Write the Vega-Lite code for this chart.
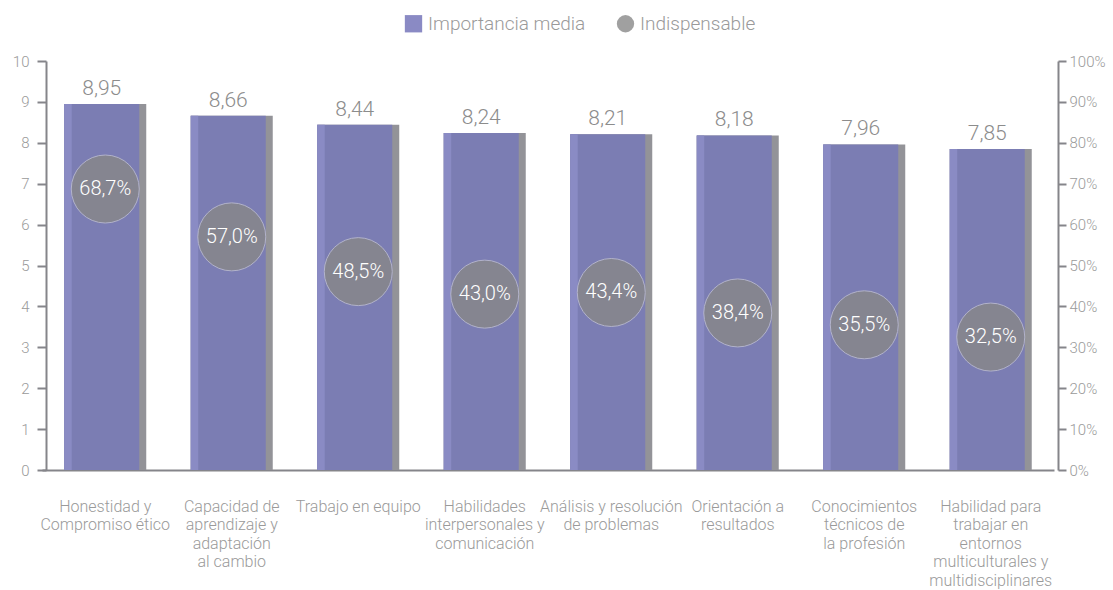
{
  "$schema": "https://vega.github.io/schema/vega-lite/v6.json",
  "autosize": {"type": "none"},
  "padding": {"left": 42, "top": 61, "right": 59, "bottom": 120},
  "width": 1012,
  "height": 409,
  "background": "white",
  "config": {
    "font": "Roboto",
    "view": {"stroke": null},
    "locale": {"number": {"decimal": ",", "thousands": ".", "grouping": [3], "currency": ["", " €"]}}
  },
  "data": {
    "values": [
      {"competencia": "Honestidad y|Compromiso ético", "media": 8.95, "indispensable": 0.687, "serie": "Indispensable"},
      {"competencia": "Capacidad de|aprendizaje y|adaptación|al cambio", "media": 8.66, "indispensable": 0.570, "serie": "Indispensable"},
      {"competencia": "Trabajo en equipo", "media": 8.44, "indispensable": 0.485, "serie": "Indispensable"},
      {"competencia": "Habilidades|interpersonales y|comunicación", "media": 8.24, "indispensable": 0.430, "serie": "Indispensable"},
      {"competencia": "Análisis y resolución|de problemas", "media": 8.21, "indispensable": 0.434, "serie": "Indispensable"},
      {"competencia": "Orientación a|resultados", "media": 8.18, "indispensable": 0.384, "serie": "Indispensable"},
      {"competencia": "Conocimientos|técnicos de|la profesión", "media": 7.96, "indispensable": 0.355, "serie": "Indispensable"},
      {"competencia": "Habilidad para|trabajar en|entornos|multiculturales y|multidisciplinares", "media": 7.85, "indispensable": 0.325, "serie": "Indispensable"}
    ]
  },
  "encoding": {
    "x": {
      "field": "competencia",
      "type": "nominal",
      "sort": null,
      "scale": {"paddingInner": 0.35, "paddingOuter": 0.175},
      "axis": {
        "title": null,
        "labelAngle": 0,
        "ticks": false,
        "domainColor": "#85858a",
        "domainWidth": 2,
        "labelColor": "#9a9a9a",
        "labelFontSize": 16,
        "labelFontWeight": 300,
        "labelLineHeight": 18.5,
        "labelBaseline": "top",
        "labelPadding": 28,
        "labelLimit": 200,
        "labelExpr": "split(datum.label, '|')"
      }
    }
  },
  "layer": [
    {
      "layer": [
        {
          "mark": {"type": "bar", "width": 82, "color": "#939398"},
          "encoding": {
            "y": {
              "field": "media",
              "type": "quantitative",
              "scale": {"domain": [0, 10], "nice": false},
              "axis": {
                "title": null,
                "orient": "left",
                "values": [0, 1, 2, 3, 4, 5, 6, 7, 8, 9, 10],
                "grid": false,
                "offset": -4,
                "domainColor": "#85858a",
                "domainWidth": 2,
                "tickColor": "#85858a",
                "tickWidth": 2,
                "tickSize": 9,
                "labelColor": "#9a9a9a",
                "labelFontSize": 15,
                "labelFontWeight": 300,
                "labelPadding": 8
              }
            }
          }
        },
        {
          "mark": {"type": "bar", "width": 75, "xOffset": -3.5, "color": "#7b7db3"},
          "encoding": {"y": {"field": "media", "type": "quantitative"}}
        },
        {
          "mark": {"type": "bar", "width": 7.5, "xOffset": -37.3, "color": "#8a8bc4"},
          "encoding": {"y": {"field": "media", "type": "quantitative"}}
        },
        {
          "mark": {"type": "text", "dx": -3.5, "dy": -9, "baseline": "alphabetic", "fontSize": 21, "fontWeight": 300, "color": "#8c8c8c"},
          "encoding": {
            "y": {"field": "media", "type": "quantitative"},
            "text": {"field": "media", "type": "quantitative", "format": ".2f"}
          }
        }
      ]
    },
    {
      "layer": [
        {
          "mark": {"type": "point", "filled": true, "size": 4624, "opacity": 0.8, "stroke": "#c0c0d0", "strokeWidth": 1},
          "encoding": {
            "y": {
              "field": "indispensable",
              "type": "quantitative",
              "scale": {"domain": [0, 1], "nice": false},
              "axis": {
                "title": null,
                "orient": "right",
                "values": [0, 0.1, 0.2, 0.3, 0.4, 0.5, 0.6, 0.7, 0.8, 0.9, 1],
                "format": ".0%",
                "grid": false,
                "offset": 4,
                "domainColor": "#85858a",
                "domainWidth": 2,
                "tickColor": "#85858a",
                "tickWidth": 2,
                "tickSize": 8,
                "labelColor": "#9a9a9a",
                "labelFontSize": 15,
                "labelFontWeight": 300,
                "labelPadding": 3
              }
            },
            "color": {
              "field": "serie",
              "type": "nominal",
              "scale": {"domain": ["Importancia media", "Indispensable"], "range": ["#6d6db5", "#888888"]},
              "legend": {
                "title": null,
                "orient": "none",
                "direction": "horizontal",
                "legendX": 362,
                "legendY": -47,
                "symbolSize": 300,
                "symbolOpacity": 0.8,
                "symbolStrokeWidth": 0,
                "labelFontSize": 19,
                "labelFontWeight": 300,
                "labelColor": "#9a9a9a",
                "labelOffset": 5,
                "columnPadding": 30
              }
            },
            "shape": {
              "field": "serie",
              "type": "nominal",
              "scale": {"domain": ["Importancia media", "Indispensable"], "range": ["square", "circle"]},
              "legend": {"title": null}
            }
          }
        },
        {
          "mark": {"type": "text", "baseline": "middle", "fontSize": 20, "fontWeight": 300, "color": "white"},
          "encoding": {
            "y": {"field": "indispensable", "type": "quantitative"},
            "text": {"field": "indispensable", "type": "quantitative", "format": ".1%"}
          }
        }
      ]
    }
  ],
  "resolve": {"scale": {"y": "independent"}}
}
